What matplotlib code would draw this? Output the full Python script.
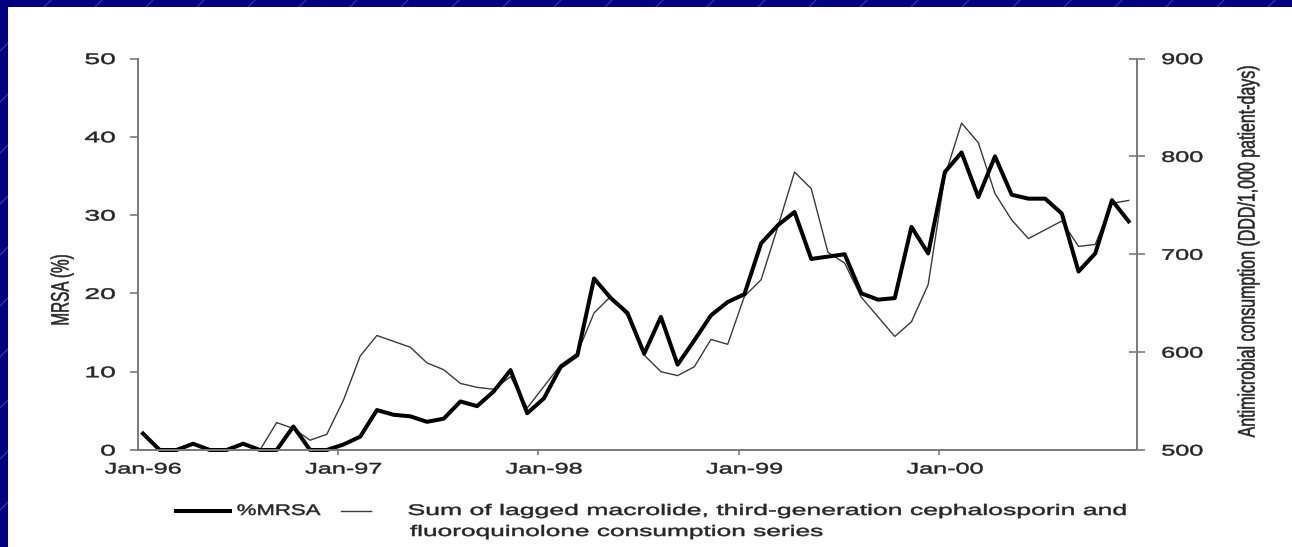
import numpy as np
import matplotlib
matplotlib.use('Agg')
import matplotlib.pyplot as plt
from matplotlib.lines import Line2D
from matplotlib.patches import Rectangle
from matplotlib.patheffects import AbstractPathEffect
from matplotlib.transforms import Affine2D

plt.rcParams['font.family'] = ['Liberation Sans', 'DejaVu Sans']

# ---------------- data (monthly, Jan-96 .. Dec-00) ----------------
mrsa = [2.1, 0, 0, 0.8, 0, 0, 0.8, 0, 0, 3.0, 0, 0,
        0.7, 1.7, 5.1, 4.5, 4.3, 3.6, 4.0, 6.2, 5.6, 7.5, 10.2, 4.7,
        6.6, 10.6, 12.1, 21.9, 19.4, 17.5, 12.3, 17.0, 10.9, 14.0, 17.2, 18.9,
        19.9, 26.4, 28.7, 30.4, 24.4, 24.7, 25.0, 20.0, 19.2, 19.4, 28.5, 25.1,
        35.5, 38.0, 32.3, 37.5, 32.6, 32.1, 32.1, 30.2, 22.8, 25.1, 31.9, 29.2]

consumption = [500, 500, 500, 500, 500, 500, 500, 500, 528, 522, 510, 516,
               551, 596, 617, 611, 605, 589, 582, 568, 564, 562, 575, 543,
               565, 587, 599, 640, 657, 637, 597, 580, 576, 585, 613, 608,
               657, 674, 728, 784, 767, 702, 691, 656, 636, 616, 631, 669,
               780, 834, 814, 762, 735, 716, 725, 734, 708, 710, 752, 755]

year_labels = ['Jan-96', 'Jan-97', 'Jan-98', 'Jan-99', 'Jan-00']
left_ticks = [0, 10, 20, 30, 40, 50]
right_ticks = [500, 600, 700, 800, 900]
mrsa_label = '%MRSA'
cons_label_lines = ['Sum of lagged macrolide, third-generation cephalosporin and',
                    'fluoroquinolone consumption series']
ylabel_left = 'MRSA (%)'
ylabel_right = 'Antimicrobial consumption (DDD/1,000 patient-days)'

# ---------------- helpers ----------------
W, H = 1292, 547
def fx(X):
    return X / W
def fy(Y):
    return 1 - Y / H

SX = 1.65          # the reference image is horizontally stretched
TXT = '#262626'
AXC = '#7a7a7a'


class HStretch(AbstractPathEffect):
    """Stretch rendered glyphs horizontally about an anchor (slightly emboldened)."""
    def __init__(self, sx=SX, anchor='center', stroke=0.35):
        super().__init__()
        self.sx = sx
        self.anchor = anchor
        self.stroke = stroke

    def draw_path(self, renderer, gc, tpath, affine, rgbFace=None):
        ext = tpath.get_extents(affine)
        if self.anchor == 'left':
            cx = ext.x0
        elif self.anchor == 'right':
            cx = ext.x1
        else:
            cx = 0.5 * (ext.x0 + ext.x1)
        t = affine + Affine2D().translate(-cx, 0).scale(self.sx, 1).translate(cx, 0)
        gc0 = renderer.new_gc()
        gc0.copy_properties(gc)
        gc0.set_linewidth(self.stroke)
        if rgbFace is not None:
            gc0.set_foreground(rgbFace)
        renderer.draw_path(gc0, tpath, t, rgbFace)
        gc0.restore()


# ---------------- figure & background ----------------
fig = plt.figure(figsize=(W / 100, H / 100), dpi=100, facecolor='#000080')
for k in range(1, 40):
    d = 51 * k
    fig.add_artist(Line2D([fx(d), fx(0)], [fy(0), fy(d)], color='#4a4ac4',
                          lw=0.9, alpha=0.7, zorder=-5))
fig.add_artist(Rectangle((fx(8), 0), 1 - fx(8), fy(7), facecolor='white',
                         edgecolor='none', zorder=-4))

# ---------------- axes ----------------
ax = fig.add_axes([fx(138), fy(450), fx(1137) - fx(138), fy(58.5) - fy(450)])
ax2 = ax.twinx()
ax.set_zorder(ax2.get_zorder() + 1)
ax.patch.set_visible(False)
ax2.patch.set_visible(False)

x = np.arange(len(mrsa))
ax2.plot(x, consumption, color='#3a3a3a', lw=1.0, solid_joinstyle='round', clip_on=False)
ax.plot(x, mrsa, color='black', lw=2.9, solid_joinstyle='round', clip_on=False)

ax.set_xlim(-0.3, 59.5)
ax.set_ylim(0, 50)
ax2.set_ylim(500, 900)

for s in ['top', 'right']:
    ax.spines[s].set_visible(False)
for s in ['top', 'left', 'bottom']:
    ax2.spines[s].set_visible(False)
for s in ['left', 'bottom']:
    ax.spines[s].set_color(AXC)
    ax.spines[s].set_linewidth(1.4)
ax2.spines['right'].set_color(AXC)
ax2.spines['right'].set_linewidth(1.4)

# x ticks: marks at year boundaries, labels centred on January
ax.set_xticks([12 * k - 0.33 for k in range(1, 5)])
ax.set_xticklabels([])
ax.set_xticks(np.arange(0, 60, 12), minor=True)
ax.set_xticklabels(year_labels, minor=True)
ax.tick_params(axis='x', which='major', direction='out', length=3.6, width=1.2, color=AXC)
ax.tick_params(axis='x', which='minor', length=0, pad=9, labelsize=11, labelcolor=TXT)

ax.set_yticks(left_ticks)
ax.tick_params(axis='y', direction='out', length=5.8, width=1.2, color=AXC,
               labelsize=11, labelcolor=TXT, pad=10.5)
ax2.set_yticks(right_ticks)
ax2.tick_params(axis='y', direction='inout', length=11.5, width=1.2, color=AXC,
                labelsize=11, labelcolor=TXT, pad=12)

for lab in ax.yaxis.get_majorticklabels():
    lab.set_path_effects([HStretch(1.85, 'right')])
for lab in ax2.yaxis.get_majorticklabels():
    lab.set_path_effects([HStretch(1.65, 'left')])
for lab in ax.xaxis.get_minorticklabels():
    lab.set_path_effects([HStretch(SX, 'center')])

# axis titles
fig.text(fx(62), fy(290), ylabel_left, rotation=90, ha='center', va='center',
         fontsize=11, color=TXT, path_effects=[HStretch(SX, 'center')])
fig.text(fx(1248), fy(251), ylabel_right, rotation=90, ha='center', va='center',
         fontsize=11.5, color=TXT, path_effects=[HStretch(1.5, 'center')])

# ---------------- legend (manual, below the plot) ----------------
fig.add_artist(Line2D([fx(176), fx(230)], [fy(511), fy(511)], color='black', lw=2.9))
fig.text(fx(237), fy(511), mrsa_label, ha='left', va='center', fontsize=11,
         color=TXT, path_effects=[HStretch(1.45, 'left')])
fig.add_artist(Line2D([fx(341), fx(371)], [fy(511), fy(511)], color='#3a3a3a', lw=1.0))
fig.text(fx(408), fy(511), cons_label_lines[0], ha='left', va='center', fontsize=11,
         color=TXT, path_effects=[HStretch(1.74, 'left')])
fig.text(fx(410), fy(532), cons_label_lines[1], ha='left', va='center', fontsize=11,
         color=TXT, path_effects=[HStretch(1.72, 'left')])

fig.savefig('out.png', dpi=100, facecolor=fig.get_facecolor())
